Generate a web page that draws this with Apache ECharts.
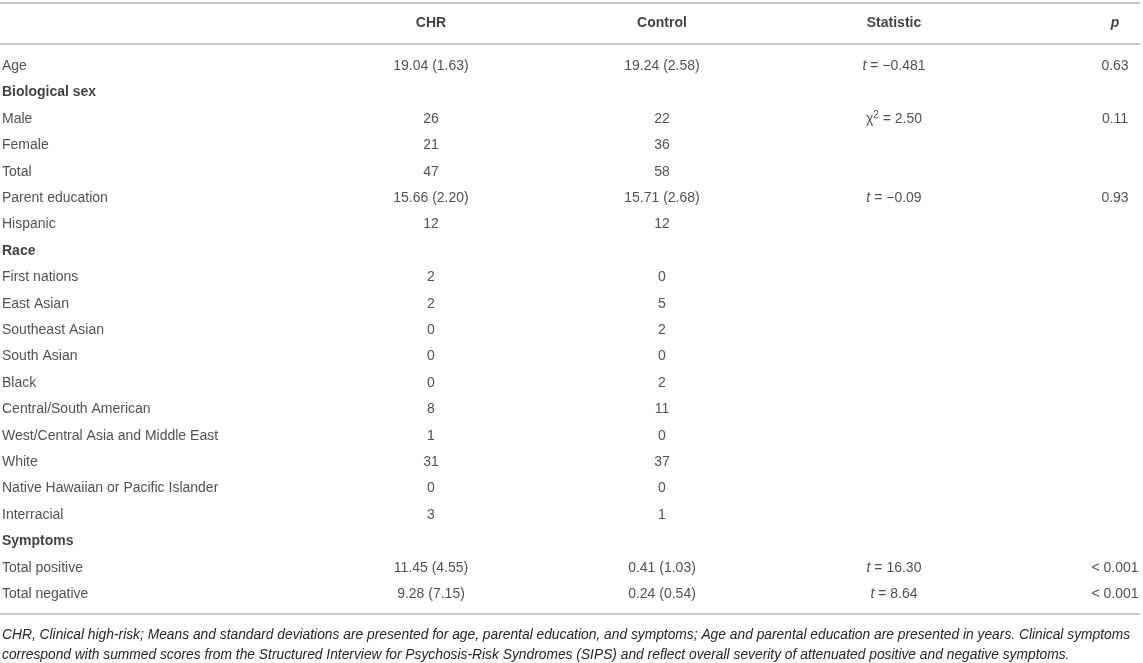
<!DOCTYPE html>
<html>
<head>
<meta charset="utf-8">
<script src="https://cdn.jsdelivr.net/npm/echarts@6/dist/echarts.min.js"></script>
<style>
html,body{margin:0;padding:0;background:#fff;}
#main{width:1143px;height:663px;}
</style>
</head>
<body>
<div id="main"></div>
<script>
// ---- table data ----
var headers = ['', 'CHR', 'Control', 'Statistic', 'p'];
var rowLabels = ['Age','Biological sex','Male','Female','Total','Parent education','Hispanic','Race',
  'First nations','East Asian','Southeast Asian','South Asian','Black','Central/South American',
  'West/Central Asia and Middle East','White','Native Hawaiian or Pacific Islander','Interracial',
  'Symptoms','Total positive','Total negative'];
var sectionRows = ['Biological sex','Race','Symptoms'];
var chrValues = ['19.04 (1.63)','','26','21','47','15.66 (2.20)','12','','2','2','0','0','0','8','1','31','0','3','','11.45 (4.55)','9.28 (7.15)'];
var controlValues = ['19.24 (2.58)','','22','36','58','15.71 (2.68)','12','','0','5','2','0','2','11','0','37','0','1','','0.41 (1.03)','0.24 (0.54)'];
var statSymbols = ['t','','χ2','','','t','','','','','','','','','','','','','','t','t'];
var statValues = ['−0.481','','2.50','','','−0.09','','','','','','','','','','','','','','16.30','8.64'];
var pValues = ['0.63','','0.11','','','0.93','','','','','','','','','','','','','','< 0.001','< 0.001'];
var footnote = ['CHR, Clinical high-risk; Means and standard deviations are presented for age, parental education, and symptoms; Age and parental education are presented in years. Clinical symptoms',
  'correspond with summed scores from the Structured Interview for Psychosis-Risk Syndromes (SIPS) and reflect overall severity of attenuated positive and negative symptoms.'];

// ---- layout (not data) ----
var W = 1143;
var colX = [2, 431, 662, 894, 1115];
var colAlign = ['left', 'center', 'center', 'center', 'center'];
var FONT = '"Liberation Sans", Arial, Helvetica, sans-serif';
var TXT = '#262626';
var RULE = '#c6c6c6';

var chart = echarts.init(document.getElementById('main'), null, {renderer: 'canvas'});

function colSeries(ci, values, fmt, gridIdx) {
  var data = [];
  values.forEach(function (v, i) {
    if (v !== '') data.push({value: [colX[ci], i], txt: v, row: i});
  });
  return {
    type: 'scatter',
    xAxisIndex: gridIdx, yAxisIndex: gridIdx,
    symbolSize: 0,
    silent: true,
    data: data,
    label: {
      show: true,
      position: [0, 0],
      align: colAlign[ci],
      verticalAlign: 'middle',
      fontFamily: FONT,
      fontSize: 14,
      color: TXT,
      formatter: fmt,
      rich: {
        b: {fontFamily: FONT, fontSize: 14, fontWeight: 'bold', color: '#111'},
        bi: {fontFamily: FONT, fontSize: 14, fontWeight: 'bold', fontStyle: 'italic', color: '#111'},
        i: {fontFamily: FONT, fontSize: 14, fontStyle: 'italic', color: TXT, lineHeight: 18},
        n: {fontFamily: FONT, fontSize: 14, color: TXT, lineHeight: 18},
        sup: {fontFamily: FONT, fontSize: 10, color: TXT, lineHeight: 10, verticalAlign: 'top'}
      }
    }
  };
}

var series = [];
// header row (grid 0)
series.push(colSeries(1, [headers[1]], function (p) { return '{b|' + p.data.txt + '}'; }, 0));
series.push(colSeries(2, [headers[2]], function (p) { return '{b|' + p.data.txt + '}'; }, 0));
series.push(colSeries(3, [headers[3]], function (p) { return '{b|' + p.data.txt + '}'; }, 0));
series.push(colSeries(4, [headers[4]], function (p) { return '{bi|' + p.data.txt + '}'; }, 0));
// body (grid 1)
series.push(colSeries(0, rowLabels, function (p) {
  return sectionRows.indexOf(p.data.txt) >= 0 ? '{b|' + p.data.txt + '}' : '{n|' + p.data.txt + '}';
}, 1));
series.push(colSeries(1, chrValues, function (p) { return p.data.txt; }, 1));
series.push(colSeries(2, controlValues, function (p) { return p.data.txt; }, 1));
series.push(colSeries(3, statValues, function (p) {
  var s = statSymbols[p.data.row];
  var sym = s === 't' ? '{i|t}' : '{n|' + s.charAt(0) + '}{sup|' + s.slice(1) + '}';
  return sym + '{n| = ' + p.data.txt + '}';
}, 1));
series.push(colSeries(4, pValues, function (p) { return p.data.txt; }, 1));

var hidden = {show: false};
var option = {
  animation: false,
  backgroundColor: '#fff',
  grid: [
    {left: 0, right: 0, top: 2, height: 42},
    {left: 0, right: 0, top: 53, height: 554.4}
  ],
  xAxis: [
    {gridIndex: 0, type: 'value', min: 0, max: W, axisLine: hidden, axisTick: hidden, axisLabel: hidden, splitLine: hidden},
    {gridIndex: 1, type: 'value', min: 0, max: W, axisLine: hidden, axisTick: hidden, axisLabel: hidden, splitLine: hidden}
  ],
  yAxis: [
    {gridIndex: 0, type: 'category', data: ['header'], inverse: true, axisLine: hidden, axisTick: hidden, axisLabel: hidden, splitLine: hidden},
    {gridIndex: 1, type: 'category', data: rowLabels, inverse: true, axisLine: hidden, axisTick: hidden, axisLabel: hidden, splitLine: hidden}
  ],
  series: series,
  graphic: [
    {type: 'line', shape: {x1: 0, y1: 3, x2: 1140, y2: 3}, style: {stroke: RULE, lineWidth: 2}, silent: true},
    {type: 'line', shape: {x1: 0, y1: 44, x2: 1140, y2: 44}, style: {stroke: RULE, lineWidth: 2}, silent: true},
    {type: 'line', shape: {x1: 0, y1: 614, x2: 1140, y2: 614}, style: {stroke: RULE, lineWidth: 2}, silent: true},
    {type: 'text', left: 2, top: 625, silent: true,
      style: {text: footnote.join('\n'), font: 'italic 13.8px ' + FONT, fill: TXT, lineHeight: 20}}
  ]
};
chart.setOption(option);
</script>
</body>
</html>
